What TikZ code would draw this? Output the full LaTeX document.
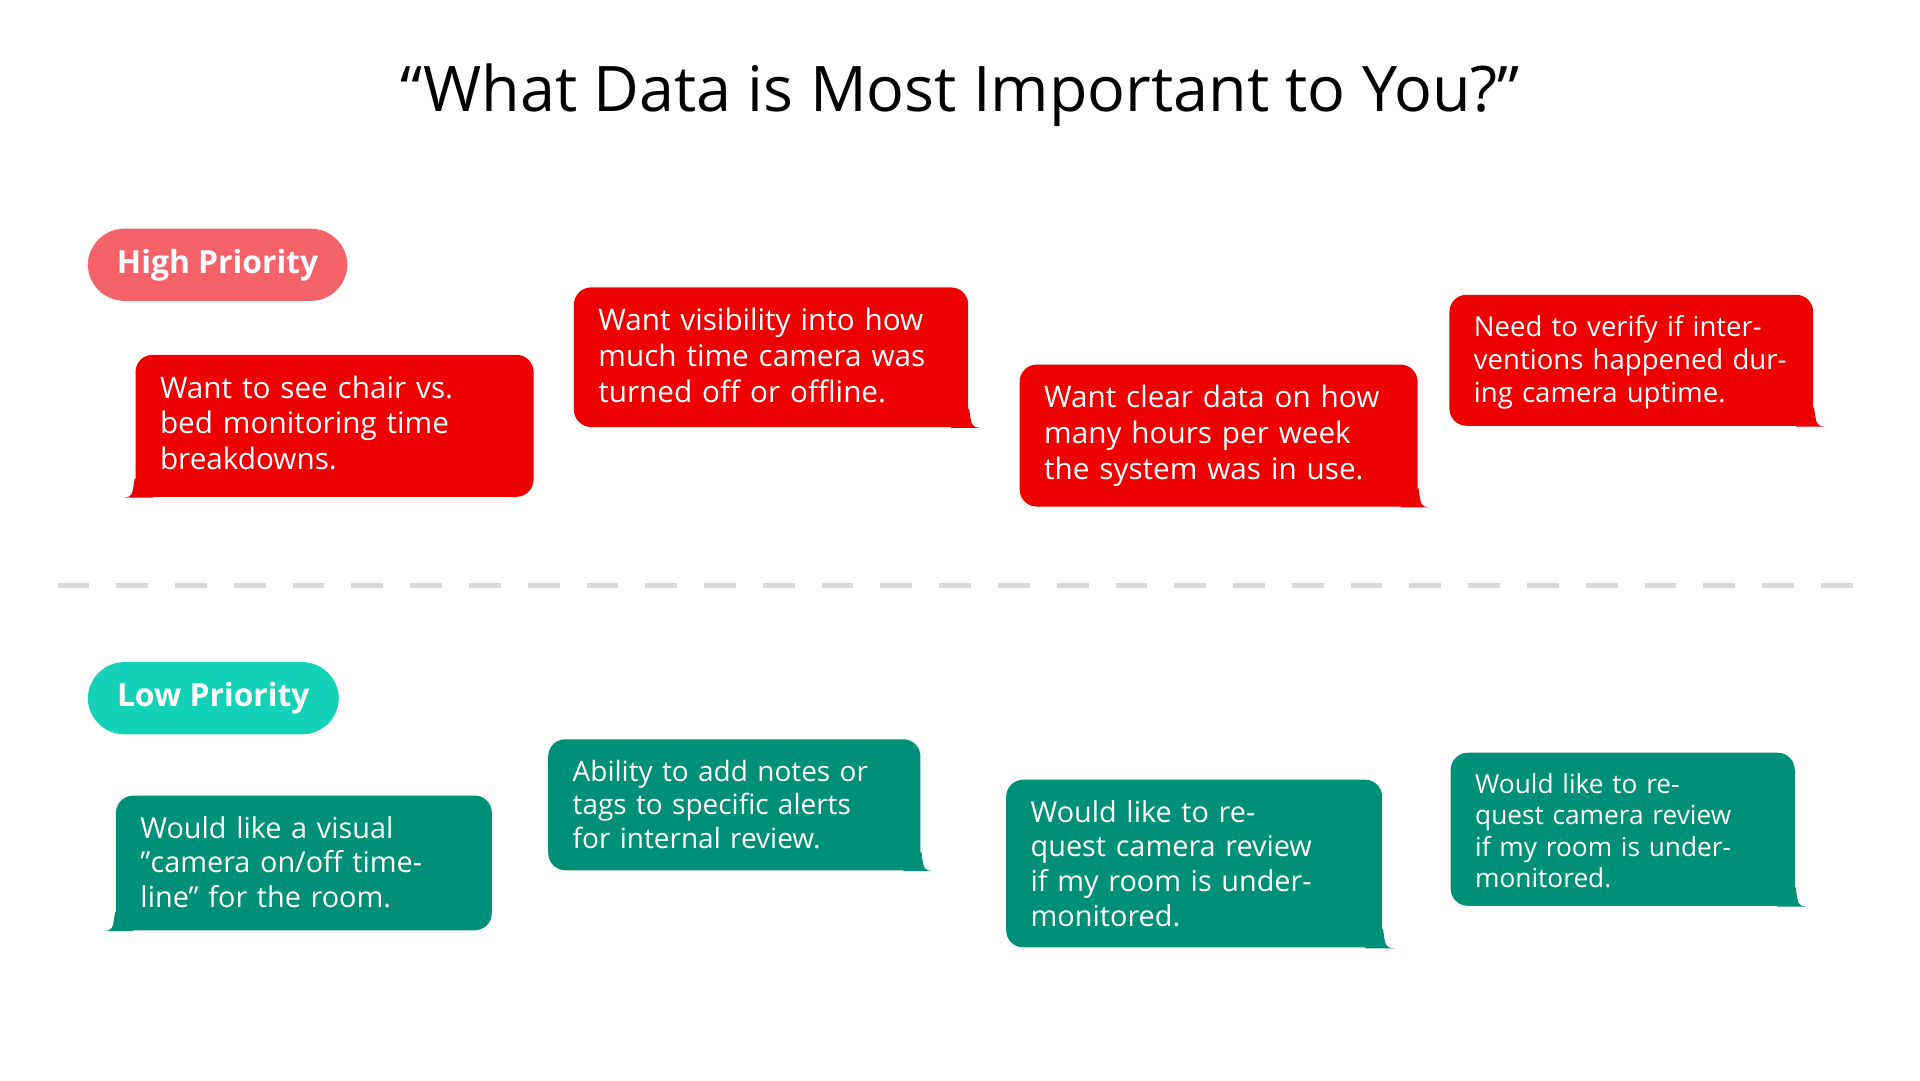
\documentclass[tikz,border=0pt]{standalone}
\usepackage{fontspec}
\setmainfont{Open Sans}
\usetikzlibrary{calc}
\definecolor{hired}{HTML}{EC0000}
\definecolor{hipill}{HTML}{F5626A}
\definecolor{loteal}{HTML}{008F78}
\definecolor{lopill}{HTML}{14D2B8}
\tikzset{
  bubblebox/.style={rounded corners=0.14cm, inner sep=0pt, anchor=north west},
  bubbletext/.style={text=white, align=left, anchor=north west, inner sep=0pt},
  pill/.style={rounded corners=0.3cm, inner sep=0pt, anchor=north west, text=white,
    font=\fontsize{7.4}{9}\selectfont\bfseries},
}
% \bubble{name}{colour}{x1}{y1}{x2}{y2}{side}{size}{text}
\newcommand{\bubble}[9]{
  \node[bubblebox, fill=#2, minimum width={(#5cm)-(#3cm)}, minimum height={(#4cm)-(#6cm)}] (#1) at (#3,#4) {};
  \node[bubbletext, text width={(#5cm)-(#3cm)-0.4cm}, font=\fontsize{#8}{10}\selectfont\setlength\baselineskip{1.2\dimexpr#8pt\relax}] (#1t) at ($(#1.north west)+(0.2,-0.17)$) {#9};
  \ifx#7r
    \fill[#2] ($(#1.south east)+(-0.15,0)$) -- ++(0.24,0) .. controls ($(#1.south east)+(0.02,0.01)$) .. ($(#1.south east)+(0,0.16)$) -- cycle;
  \else
    \fill[#2] ($(#1.south west)+(0.15,0)$) -- ++(-0.24,0) .. controls ($(#1.south west)+(-0.02,0.01)$) .. ($(#1.south west)+(0,0.16)$) -- cycle;
  \fi
}
\begin{document}
\begin{tikzpicture}
\useasboundingbox (0,0) rectangle (15.68,-8.82);
% title
\node (title) at (7.84,-0.78) {\fontsize{14.6}{17}\selectfont “What Data is Most Important to You?”};
% priority labels
\node[pill, fill=hipill, minimum width=2.12cm, minimum height=0.59cm] (high) at (0.71,-1.86) {High Priority};
\node[pill, fill=lopill, minimum width=2.05cm, minimum height=0.59cm] (low) at (0.71,-5.40) {Low Priority};
% divider
\coordinate (divl) at (0.47,-4.78);
\coordinate (divr) at (15.2,-4.78);
\draw[black!15, line width=1.2pt, dash pattern=on 0.26cm off 0.22cm] (divl) -- (divr);
% high priority
\bubble{hone}{hired}{1.10}{-2.89}{4.35}{-4.05}{l}{6.9}{Want to see chair vs. bed monitoring time breakdowns.}
\bubble{htwo}{hired}{4.68}{-2.34}{7.90}{-3.48}{r}{6.9}{Want visibility into how much time camera was turned off or offline.}
\bubble{hthree}{hired}{8.32}{-2.97}{11.57}{-4.13}{r}{6.9}{Want clear data on how many hours per week the system was in use.}
\bubble{hfour}{hired}{11.83}{-2.40}{14.80}{-3.47}{r}{6.4}{Need to verify if interventions happened during camera uptime.}
% low priority
\bubble{lone}{loteal}{0.94}{-6.49}{4.01}{-7.59}{l}{6.7}{Would like a visual ”camera on/off timeline” for the room.}
\bubble{ltwo}{loteal}{4.47}{-6.03}{7.51}{-7.10}{r}{6.5}{Ability to add notes or tags to specific alerts for internal review.}
\bubble{lthree}{loteal}{8.21}{-6.36}{11.28}{-7.73}{r}{6.7}{Would like to request camera review if my room is under-monitored.}
\bubble{lfour}{loteal}{11.84}{-6.14}{14.65}{-7.39}{r}{6.1}{Would like to request camera review if my room is under-monitored.}
\end{tikzpicture}
\end{document}
